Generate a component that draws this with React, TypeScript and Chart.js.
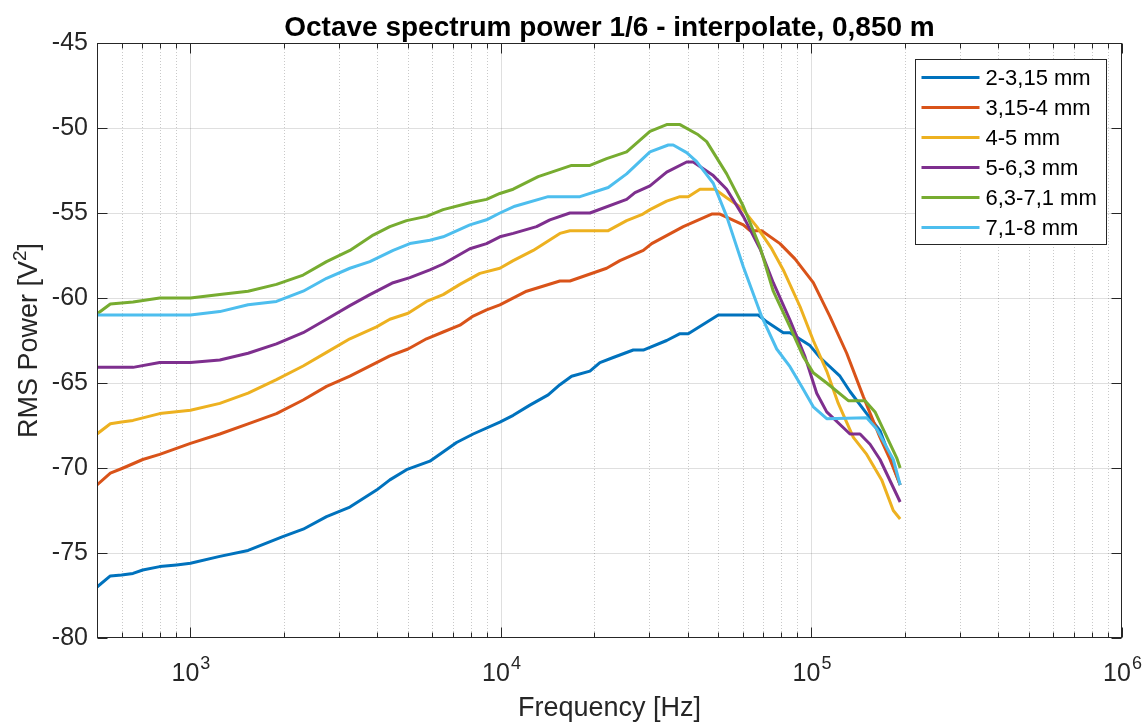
import React, { useEffect, useRef } from "react";
import { Chart, registerables } from "chart.js";

Chart.register(...registerables);

// ---------- Data ----------
const seriesNames = ["2-3,15 mm", "3,15-4 mm", "4-5 mm", "5-6,3 mm", "6,3-7,1 mm", "7,1-8 mm"];
const seriesColors = ["#0072BD", "#D95319", "#EDB120", "#7E2F8E", "#77AC30", "#4DBEEE"];

const freqS1 = [500, 552, 600, 653, 702, 796, 902, 1000, 1243, 1533, 1983, 2306, 2743, 3261, 3974, 4386, 4965, 5902, 7194, 8137, 9918, 10949, 12390, 14191, 15478, 16880, 19341, 20826, 22987, 26669, 28726, 34166, 37715, 40098, 50087, 67412, 71764, 81133, 85257, 98900, 106514, 123540, 133050, 150600, 166200, 193000];
const dbS1 = [-77.0, -76.35, -76.3, -76.2, -76.0, -75.8, -75.7, -75.6, -75.2, -74.85, -74.04, -73.6, -72.86, -72.3, -71.3, -70.7, -70.1, -69.6, -68.5, -68.0, -67.3, -66.9, -66.3, -65.7, -65.1, -64.6, -64.3, -63.8, -63.5, -63.06, -63.06, -62.5, -62.1, -62.1, -61.0, -61.0, -61.4, -62.05, -62.05, -62.8, -63.5, -64.6, -65.5, -66.8, -67.8, -71.0];

const freqS2 = [500, 552, 607, 702, 796, 1000, 1243, 1533, 1892, 2306, 2743, 3261, 3974, 4386, 5023, 5757, 6513, 7374, 8137, 8986, 9918, 12090, 15478, 16672, 21888, 24157, 28726, 30574, 38643, 47700, 50726, 60312, 63389, 69140, 79165, 88477, 101345, 114710, 129840, 146860, 166200, 179000, 193000];
const dbS2 = [-71.0, -70.3, -70.0, -69.5, -69.2, -68.55, -68.0, -67.4, -66.8, -66.0, -65.2, -64.6, -63.8, -63.4, -63.0, -62.4, -62.0, -61.6, -61.06, -60.7, -60.4, -59.6, -59.0, -59.0, -58.25, -57.8, -57.2, -56.8, -55.8, -55.06, -55.06, -55.7, -56.04, -56.04, -56.8, -57.7, -59.1, -61.1, -63.25, -65.8, -68.2, -69.5, -71.0];

const freqS3 = [500, 552, 600, 653, 796, 1000, 1243, 1533, 1892, 2306, 2743, 3261, 3974, 4386, 5023, 5757, 6513, 7374, 8551, 9918, 10949, 12698, 15478, 16672, 22152, 25389, 28390, 30187, 34166, 37715, 40098, 43735, 48880, 53316, 59597, 66620, 74444, 81133, 91833, 101345, 111944, 121984, 136370, 150600, 168300, 183400, 193000];
const dbS3 = [-68.0, -67.4, -67.3, -67.2, -66.8, -66.6, -66.2, -65.6, -64.8, -64.0, -63.2, -62.4, -61.7, -61.25, -60.9, -60.2, -59.8, -59.2, -58.55, -58.25, -57.8, -57.2, -56.2, -56.04, -56.04, -55.45, -55.1, -54.8, -54.3, -54.04, -54.04, -53.6, -53.6, -54.1, -54.7, -55.8, -57.1, -58.35, -60.5, -62.5, -64.3, -66.2, -68.2, -69.2, -70.7, -72.5, -73.0];

const freqS4 = [500, 653, 796, 1000, 1243, 1533, 1892, 2306, 2743, 3261, 3782, 4494, 5088, 5902, 6513, 7940, 8986, 9918, 10949, 13020, 14370, 16672, 19341, 25389, 27010, 30187, 34166, 39628, 41616, 48270, 53316, 60312, 68270, 75325, 85257, 95283, 103943, 111944, 133050, 143320, 154360, 166200, 193000];
const dbS4 = [-64.08, -64.08, -63.8, -63.8, -63.65, -63.25, -62.7, -62.04, -61.25, -60.45, -59.8, -59.1, -58.8, -58.35, -58.0, -57.1, -56.8, -56.4, -56.2, -55.8, -55.4, -55.0, -55.0, -54.2, -53.8, -53.4, -52.6, -52.0, -52.0, -52.8, -53.6, -55.2, -57.1, -59.1, -61.3, -63.45, -65.6, -66.7, -68.0, -68.0, -68.6, -69.5, -72.0];

const freqS5 = [500, 552, 653, 796, 1000, 1243, 1533, 1892, 2306, 2743, 3261, 3876, 4386, 4965, 5757, 6513, 7940, 8986, 9918, 10949, 13178, 14555, 16880, 19341, 21888, 25389, 30187, 34166, 37715, 43184, 45963, 53316, 60312, 68270, 75325, 85257, 94106, 101345, 111944, 131400, 148730, 160200, 188100, 193000];
const dbS5 = [-60.94, -60.35, -60.24, -60.0, -60.0, -59.8, -59.6, -59.2, -58.65, -57.86, -57.2, -56.3, -55.8, -55.45, -55.2, -54.8, -54.4, -54.2, -53.85, -53.6, -52.86, -52.6, -52.2, -52.2, -51.8, -51.4, -50.2, -49.8, -49.8, -50.4, -50.8, -52.7, -54.6, -57.0, -59.6, -61.7, -63.45, -64.4, -65.0, -66.04, -66.04, -66.7, -69.4, -70.0];

const freqS6 = [500, 1000, 1243, 1533, 1892, 2306, 2743, 3261, 3782, 4494, 5088, 5902, 6513, 7940, 8986, 9918, 11086, 14191, 17962, 22152, 25389, 30187, 34578, 35872, 39628, 42680, 48270, 53316, 60312, 69140, 77257, 85257, 92986, 101345, 111944, 150600, 162180, 183400, 193000];
const dbS6 = [-61.0, -61.0, -60.8, -60.4, -60.2, -59.6, -58.84, -58.25, -57.86, -57.2, -56.8, -56.6, -56.4, -55.7, -55.4, -55.0, -54.6, -54.04, -54.04, -53.5, -52.7, -51.4, -51.0, -51.0, -51.45, -51.98, -53.25, -55.2, -58.16, -61.1, -63.0, -64.04, -65.2, -66.4, -67.1, -67.05, -67.7, -69.5, -71.0];

const seriesFreqs = [freqS1, freqS2, freqS3, freqS4, freqS5, freqS6];
const seriesDb = [dbS1, dbS2, dbS3, dbS4, dbS5, dbS6];

const xMin = 500;
const xMax = 1000000;
const xMajorTicks = [1000, 10000, 100000, 1000000];
const xMajorExponents = ["3", "4", "5", "6"];
const xMinorMultipliers = [2, 3, 4, 5, 6, 7, 8, 9];
const xDecades = [100, 1000, 10000, 100000];
const yTicks = [-80, -75, -70, -65, -60, -55, -50, -45];

const titleText = "Octave spectrum power 1/6 - interpolate, 0,850 m";
const xTitle = "Frequency [Hz]";
const yTitleMain = "RMS Power [V";
const yTitleSup = "2";
const yTitleEnd = "]";

const FONT = "'Liberation Sans', Arial, Helvetica, sans-serif";
const AX = "#262626";

const xMinorTicks: number[] = [];
xDecades.forEach((d) => xMinorMultipliers.forEach((m) => {
  const v = d * m;
  if (v > xMin && v < xMax) xMinorTicks.push(v);
}));

const framePlugin = {
  id: "matlabFrame",
  beforeDatasetsDraw(chart: any) {
    const { ctx, chartArea: a, scales } = chart;
    const x = scales.x, y = scales.y;
    ctx.save();
    ctx.lineWidth = 1;
    ctx.strokeStyle = "rgba(38,38,38,0.25)";
    ctx.setLineDash([1, 2]);
    for (const v of xMinorTicks) {
      const px = Math.round(x.getPixelForValue(v)) + 0.5;
      ctx.beginPath(); ctx.moveTo(px, a.top); ctx.lineTo(px, a.bottom); ctx.stroke();
    }
    ctx.setLineDash([]);
    ctx.strokeStyle = "rgba(38,38,38,0.15)";
    for (const v of xMajorTicks) {
      if (v <= xMin || v >= xMax) continue;
      const px = Math.round(x.getPixelForValue(v)) + 0.5;
      ctx.beginPath(); ctx.moveTo(px, a.top); ctx.lineTo(px, a.bottom); ctx.stroke();
    }
    for (const v of yTicks) {
      if (v <= -80 || v >= -45) continue;
      const py = Math.round(y.getPixelForValue(v)) + 0.5;
      ctx.beginPath(); ctx.moveTo(a.left, py); ctx.lineTo(a.right, py); ctx.stroke();
    }
    ctx.restore();
  },
  afterDatasetsDraw(chart: any) {
    const { ctx, chartArea: a, scales } = chart;
    const x = scales.x, y = scales.y;
    ctx.save();
    ctx.strokeStyle = AX;
    ctx.lineWidth = 1;
    const L = Math.round(a.left) + 0.5, R = Math.round(a.right) - 0.5;
    const T = Math.round(a.top) + 0.5, B = Math.round(a.bottom) - 0.5;
    ctx.strokeRect(L, T, R - L, B - T);
    const tick = (x1: number, y1: number, x2: number, y2: number) => {
      ctx.beginPath(); ctx.moveTo(x1, y1); ctx.lineTo(x2, y2); ctx.stroke();
    };
    for (const v of xMajorTicks) {
      const px = Math.round(x.getPixelForValue(v)) + 0.5;
      tick(px, B, px, B - 10); tick(px, T, px, T + 10);
    }
    for (const v of xMinorTicks) {
      const px = Math.round(x.getPixelForValue(v)) + 0.5;
      tick(px, B, px, B - 5); tick(px, T, px, T + 5);
    }
    for (const v of yTicks) {
      const py = Math.round(y.getPixelForValue(v)) + 0.5;
      tick(L, py, L + 10, py); tick(R, py, R - 10, py);
    }
    ctx.fillStyle = AX;
    ctx.textBaseline = "alphabetic";
    ctx.textAlign = "left";
    xMajorTicks.forEach((v, i) => {
      const px = x.getPixelForValue(v);
      ctx.font = `25px ${FONT}`;
      const w1 = ctx.measureText("10").width;
      ctx.font = `18px ${FONT}`;
      const w2 = ctx.measureText(xMajorExponents[i]).width;
      const start = px - (w1 + w2) / 2;
      ctx.font = `25px ${FONT}`;
      ctx.fillText("10", start, a.bottom + 43);
      ctx.font = `18px ${FONT}`;
      ctx.fillText(xMajorExponents[i], start + w1 + 1, a.bottom + 31);
    });
    const cx = (a.left + a.right) / 2;
    ctx.fillStyle = "#000";
    ctx.font = `bold 28px ${FONT}`;
    ctx.textAlign = "center";
    ctx.fillText(titleText, cx, 36);
    ctx.fillStyle = AX;
    ctx.font = `27px ${FONT}`;
    ctx.fillText(xTitle, cx, 716);
    ctx.save();
    const cy = (a.top + a.bottom) / 2;
    ctx.translate(37, cy);
    ctx.rotate(-Math.PI / 2);
    ctx.textAlign = "left";
    ctx.font = `27px ${FONT}`;
    const wa = ctx.measureText(yTitleMain).width;
    const wc = ctx.measureText(yTitleEnd).width;
    ctx.font = `19px ${FONT}`;
    const wb = ctx.measureText(yTitleSup).width;
    let sx = -(wa + wb + wc) / 2;
    ctx.font = `27px ${FONT}`;
    ctx.fillText(yTitleMain, sx, 0);
    sx += wa;
    ctx.font = `19px ${FONT}`;
    ctx.fillText(yTitleSup, sx, -11);
    sx += wb;
    ctx.font = `27px ${FONT}`;
    ctx.fillText(yTitleEnd, sx, 0);
    ctx.restore();
    const lx = Math.round(a.right) - 206.5, ly = Math.round(a.top) + 16.5;
    const lw = 191, lh = 185;
    ctx.fillStyle = "#fff";
    ctx.fillRect(lx, ly, lw, lh);
    ctx.strokeStyle = AX;
    ctx.lineWidth = 1;
    ctx.strokeRect(lx, ly, lw, lh);
    ctx.font = `22px ${FONT}`;
    ctx.textAlign = "left";
    ctx.textBaseline = "middle";
    seriesNames.forEach((name, i) => {
      const yy = ly + 18 + i * 30;
      ctx.strokeStyle = seriesColors[i];
      ctx.lineWidth = 3;
      ctx.beginPath(); ctx.moveTo(lx + 6, yy); ctx.lineTo(lx + 64, yy); ctx.stroke();
      ctx.fillStyle = "#000";
      ctx.fillText(name, lx + 70, yy + 1);
    });
    ctx.restore();
  },
};

export default function App() {
  const ref = useRef<HTMLCanvasElement | null>(null);
  useEffect(() => {
    if (!ref.current) return;
    const datasets = seriesNames.map((name, i) => ({
      label: name,
      data: seriesFreqs[i].map((f, k) => ({ x: f, y: seriesDb[i][k] })),
      borderColor: seriesColors[i],
      backgroundColor: seriesColors[i],
      borderWidth: 3,
      pointRadius: 0,
      tension: 0,
      fill: false,
      borderJoinStyle: "round" as const,
      order: seriesNames.length - 1 - i,
    }));
    const chart = new Chart(ref.current, {
      type: "line",
      data: { datasets },
      options: {
        animation: false,
        responsive: false,
        devicePixelRatio: 1,
        layout: { padding: { left: 0, right: 25, top: 43, bottom: 0 } },
        plugins: { legend: { display: false }, title: { display: false }, tooltip: { enabled: false } },
        scales: {
          x: {
            type: "logarithmic",
            min: xMin,
            max: xMax,
            grid: { display: false },
            border: { display: false },
            ticks: { display: false },
            afterFit: (s: any) => { s.height = 84; },
          },
          y: {
            type: "linear",
            min: -80,
            max: -45,
            grid: { display: false, drawTicks: false },
            border: { display: false },
            ticks: {
              stepSize: 5,
              padding: 9,
              color: AX,
              font: { family: FONT, size: 25 },
              callback: (v: any) => String(v),
            },
            afterFit: (s: any) => { s.width = 97; },
          },
        },
      },
      plugins: [framePlugin],
    });
    return () => chart.destroy();
  }, []);
  return (
    <div style={{ position: "fixed", left: 0, top: 0, width: 1147, height: 722, background: "#fff" }}>
      <canvas ref={ref} width={1147} height={722} style={{ display: "block" }} />
    </div>
  );
}
